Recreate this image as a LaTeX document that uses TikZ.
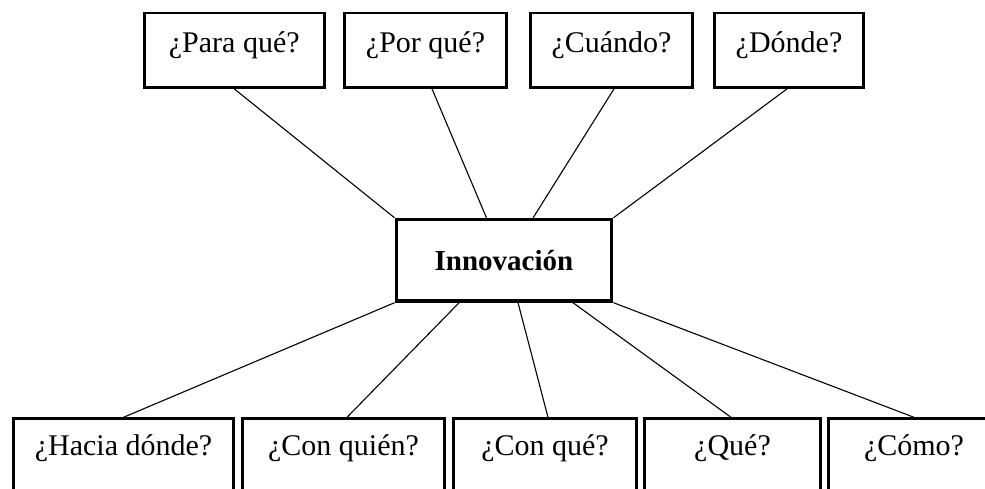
\documentclass[tikz,border=0pt]{standalone}
\usepackage{fontspec}
\setmainfont{Liberation Serif}
\usetikzlibrary{calc}
\tikzset{
  topbox/.style={draw, line width=2.4pt, inner sep=0pt, text height=40pt, text depth=34.7pt, font=\fontsize{30}{36}\selectfont},
  botbox/.style={draw, line width=2.4pt, inner sep=0pt, text height=36.5pt, text depth=80pt, font=\fontsize{30}{36}\selectfont},
  centerbox/.style={draw, line width=3.4pt, inner sep=0pt, text height=50.5pt, text depth=31pt, font=\fontsize{29}{35}\selectfont\bfseries},
  conn/.style={line width=1.1pt}
}
\begin{document}
\begin{tikzpicture}[x=1pt,y=-1pt]
\useasboundingbox (0,0) rectangle (985,489);
\clip (0,0) rectangle (985,489);
% top boxes (anchor=base at baseline)
\node[topbox, minimum width=180pt, anchor=base] (pq) at (234.3,53) {¿Para qué?};
\node[topbox, minimum width=162pt, anchor=base] (pm) at (425.5,53) {¿Por qué?};
\node[topbox, minimum width=162pt, anchor=base] (cu) at (611.5,53) {¿Cuándo?};
\node[topbox, minimum width=149pt, anchor=base] (do) at (789,53) {¿Dónde?};
% center
\node[centerbox, minimum width=215.5pt, anchor=base] (inn) at (504,270) {Innovación};
% bottom boxes
\node[botbox, minimum width=220pt, anchor=base] (hd) at (123.5,455) {¿Hacia dónde?};
\node[botbox, minimum width=202pt, anchor=base] (cq) at (343.5,455) {¿Con quién?};
\node[botbox, minimum width=183pt, anchor=base] (cqe) at (545,455) {¿Con qué?};
\node[botbox, minimum width=176pt, anchor=base] (qu) at (732.5,455) {¿Qué?};
\node[botbox, minimum width=171pt, anchor=base] (co) at (914,455) {¿Cómo?};
% connectors
\draw[conn] (pq.south) -- (inn.north west);
\draw[conn] ($(pm.south)+(6.5,0)$) -- ($(inn.north west)!0.42!(inn.north east)$);
\draw[conn] ($(cu.south)+(2.5,0)$) -- ($(inn.north west)!0.633!(inn.north east)$);
\draw[conn] ($(do.south)+(-2,0)$) -- (inn.north east);
\draw[conn] (hd.north) -- (inn.south west);
\draw[conn] ($(cq.north)+(3.5,0)$) -- ($(inn.south west)!0.295!(inn.south east)$);
\draw[conn] ($(cqe.north)+(3,0)$) -- ($(inn.south west)!0.564!(inn.south east)$);
\draw[conn] ($(qu.north)+(-1.5,0)$) -- ($(inn.south west)!0.815!(inn.south east)$);
\draw[conn] (co.north) -- (inn.south east);
\end{tikzpicture}
\end{document}
